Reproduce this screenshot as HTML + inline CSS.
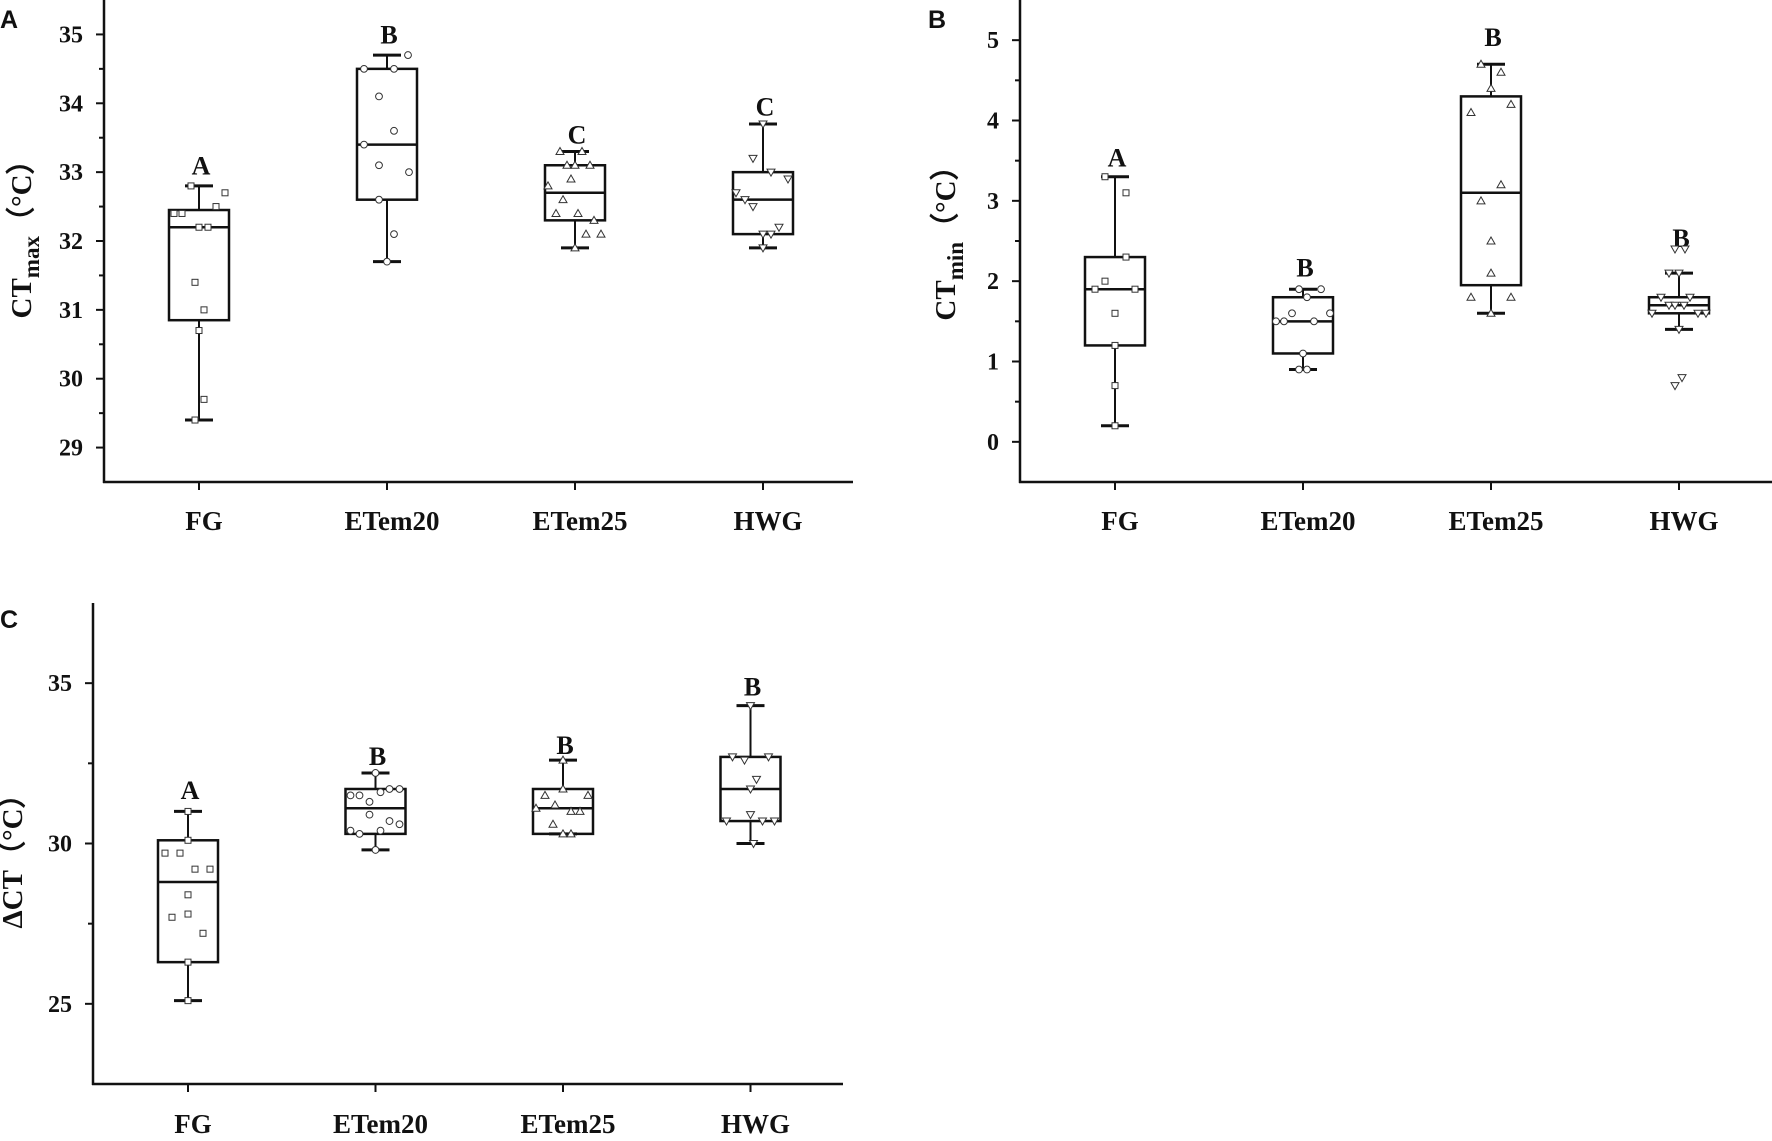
<!DOCTYPE html>
<html><head><meta charset="utf-8">
<style>
html,body{margin:0;padding:0;background:#fff;}
svg{display:block;}
text{font-family:"Liberation Serif",serif;font-weight:bold;fill:#111;}
.pl{font-family:"Liberation Sans",sans-serif;}
</style></head>
<body>
<svg id="fig" width="1772" height="1141" viewBox="0 0 1772 1141" xmlns="http://www.w3.org/2000/svg"></svg>
<script>
const categories = ["FG","ETem20","ETem25","HWG"];
const markerShapes = ["square","circle","up","down"];
// Panel A: CTmax
const aWhiskerLow = [29.4,31.7,31.9,31.9];
const aQ1 = [30.85,32.6,32.3,32.1];
const aMedian = [32.2,33.4,32.7,32.6];
const aQ3 = [32.45,34.5,33.1,33.0];
const aWhiskerHigh = [32.8,34.7,33.3,33.7];
const aLetters = ["A","B","C","C"];
const aLetterY = [33.1,35.0,33.55,33.95];
const aPoints = [
  [32.8,32.4,32.4,32.5,32.7,32.2,32.2,31.4,31.0,30.7,29.7,29.4],
  [34.7,34.5,34.5,34.1,33.6,33.4,33.1,33.0,32.6,32.1,31.7],
  [33.3,33.3,33.1,33.1,33.1,32.9,32.8,32.6,32.4,32.4,32.3,32.1,32.1,31.9],
  [33.7,33.2,33.0,32.9,32.7,32.6,32.5,32.2,32.1,32.1,31.9]
];
const aJitter = [
  [-8,-25,-17,17,26,0,9,-4,5,0,5,-4],
  [21,-23,7,-8,7,-23,-8,22,-8,7,0],
  [-15,7,-8,0,15,-4,-27,-12,-19,3,19,11,26,0],
  [0,-10,8,25,-27,-18,-10,16,0,8,0]
];
// Panel B: CTmin
const bWhiskerLow = [0.2,0.9,1.6,1.4];
const bQ1 = [1.2,1.1,1.95,1.6];
const bMedian = [1.9,1.5,3.1,1.7];
const bQ3 = [2.3,1.8,4.3,1.8];
const bWhiskerHigh = [3.3,1.9,4.7,2.1];
const bLetters = ["A","B","B","B"];
const bLetterY = [3.54,2.17,5.04,2.54];
const bPoints = [
  [3.3,3.1,2.3,2.0,1.9,1.9,1.6,1.2,0.7,0.2],
  [1.9,1.9,1.8,1.6,1.6,1.5,1.5,1.5,1.1,0.9,0.9],
  [4.7,4.6,4.4,4.2,4.1,3.2,3.0,2.5,2.1,1.8,1.8,1.6],
  [2.4,2.4,2.1,2.1,1.8,1.8,1.7,1.7,1.7,1.6,1.6,1.6,1.4,0.8,0.7]
];
const bJitter = [
  [-10,11,11,-10,-20,20,0,0,0,0],
  [-4,18,4,-11,27,-27,-19,11,0,-4,4],
  [-10,10,0,20,-20,10,-10,0,0,-20,20,0],
  [-4,6,-10,0,-18,11,-10,-4,5,-27,19,27,0,3,-4]
];
// Panel C: delta CT
const cWhiskerLow = [25.1,29.8,30.3,30.0];
const cQ1 = [26.3,30.3,30.3,30.7];
const cMedian = [28.8,31.1,31.1,31.7];
const cQ3 = [30.1,31.7,31.7,32.7];
const cWhiskerHigh = [31.0,32.2,32.6,34.3];
const cLetters = ["A","B","B","B"];
const cLetterY = [31.67,32.73,33.07,34.9];
const cPoints = [
  [31.0,30.1,29.7,29.7,29.2,29.2,28.4,27.8,27.7,27.2,26.3,25.1],
  [32.2,31.7,31.7,31.6,31.5,31.5,31.3,30.9,30.7,30.6,30.4,30.4,30.3,29.8],
  [32.6,31.7,31.5,31.5,31.2,31.1,31.0,31.0,30.6,30.3,30.3],
  [34.3,32.7,32.7,32.6,32.0,31.7,30.9,30.7,30.7,30.7,30.0]
];
const cJitter = [
  [0,0,-23,-8,7,22,0,0,-16,15,0,0],
  [0,14,24,5,-25,-16,-6,-6,14,24,-25,5,-16,0],
  [0,0,-18,25,-8,-27,8,17,-10,0,8],
  [0,-18,18,-6,6,0,0,-24,12,24,3]
];
const aTicks = [29,30,31,32,33,34,35];
const bTicks = [0,1,2,3,4,5];
const cTicks = [25,30,35];

const NS="http://www.w3.org/2000/svg";
const svg=document.getElementById('fig');
function mk(tag,attrs,parent){const e=document.createElementNS(NS,tag);for(const k in attrs)e.setAttribute(k,attrs[k]);(parent||svg).appendChild(e);return e;}

function panel(cfg){
  const g=mk('g',{});
  
  
  const y=v=>cfg.yBot-(v-cfg.dMin)/(cfg.dMax-cfg.dMin)*(cfg.yBot-cfg.yTop);
  const x=i=>cfg.x0+i*cfg.dx;
  const ya=mk('line',{x1:cfg.ax,y1:cfg.yTop,x2:cfg.ax,y2:cfg.yBot+1,stroke:'#111','stroke-width':2.5},g);
  
  
  const xa=mk('line',{x1:cfg.ax-1,y1:cfg.yBot,x2:cfg.xEnd,y2:cfg.yBot,stroke:'#111','stroke-width':2.5},g);
  
  
  cfg.ticks.forEach(t=>{
    mk('line',{x1:cfg.ax-8,y1:y(t),x2:cfg.ax,y2:y(t),stroke:'#111','stroke-width':2},g);
    const lb=mk('text',{x:cfg.ax-21,y:y(t)+8,'text-anchor':'end','font-size':24},g);
    lb.textContent=t;
    
    
  });
  for(let m=cfg.dMin+cfg.minor;m<cfg.dMax;m+=cfg.minor){
    if(cfg.ticks.some(t=>Math.abs(t-m)<1e-6))continue;
    mk('line',{x1:cfg.ax-5,y1:y(m),x2:cfg.ax,y2:y(m),stroke:'#111','stroke-width':2},g);
  }
  categories.forEach((c,i)=>{
    mk('line',{x1:x(i),y1:cfg.yBot,x2:x(i),y2:cfg.yBot+8,stroke:'#111','stroke-width':2},g);
    const lb=mk('text',{x:x(i)+5,y:cfg.catY,'text-anchor':'middle','font-size':27},g);
    lb.textContent=c;
    
    
  });
  const yt=mk('text',{transform:`translate(${cfg.titleX},${cfg.titleY}) rotate(-90)`,'text-anchor':'middle','font-size':29},g);
  yt.innerHTML=cfg.title;
  
  
  const pl=mk('text',{x:cfg.plX,y:cfg.plY,'font-size':25,class:'pl'},g);
  pl.textContent=cfg.label;
  
  
  categories.forEach((c,i)=>{
    const cx=x(i),hw=30,cw=14;
    const bg=mk('g',{},g);
    
    
    mk('line',{x1:cx,y1:y(cfg.wh[i]),x2:cx,y2:y(cfg.q3[i]),stroke:'#111','stroke-width':2},bg);
    mk('line',{x1:cx,y1:y(cfg.q1[i]),x2:cx,y2:y(cfg.wl[i]),stroke:'#111','stroke-width':2},bg);
    mk('line',{x1:cx-cw,y1:y(cfg.wh[i]),x2:cx+cw,y2:y(cfg.wh[i]),stroke:'#111','stroke-width':3},bg);
    mk('line',{x1:cx-cw,y1:y(cfg.wl[i]),x2:cx+cw,y2:y(cfg.wl[i]),stroke:'#111','stroke-width':3},bg);
    mk('rect',{x:cx-hw,y:y(cfg.q3[i]),width:2*hw,height:y(cfg.q1[i])-y(cfg.q3[i]),fill:'none',stroke:'#111','stroke-width':2.5},bg);
    mk('line',{x1:cx-hw,y1:y(cfg.med[i]),x2:cx+hw,y2:y(cfg.med[i]),stroke:'#111','stroke-width':2.5},bg);
    const lt=mk('text',{x:cx+2,y:y(cfg.letY[i])+9,'text-anchor':'middle','font-size':26},g);
    lt.textContent=cfg.letters[i];
    
    
    cfg.pts[i].forEach((v,k)=>{
      const px=cx+cfg.jit[i][k],py=y(v),s=markerShapes[i];
      let m;
      if(s==='square')m=mk('rect',{x:px-3,y:py-3,width:6,height:6,fill:'#fff',stroke:'#333','stroke-width':1},g);
      else if(s==='circle')m=mk('circle',{cx:px,cy:py,r:3.4,fill:'#fff',stroke:'#333','stroke-width':1},g);
      else if(s==='up')m=mk('polygon',{points:`${px},${py-4} ${px-4},${py+3} ${px+4},${py+3}`,fill:'#fff',stroke:'#333','stroke-width':1},g);
      else m=mk('polygon',{points:`${px},${py+4} ${px-4},${py-3} ${px+4},${py-3}`,fill:'#fff',stroke:'#333','stroke-width':1},g);
      
      
    });
  });
}
panel({name:'panel-a-ctmax',label:'A',plX:0,plY:28,ax:104,yTop:0,yBot:482,xEnd:853,dMin:28.5,dMax:35.5,ticks:aTicks,minor:0.5,
  x0:199,dx:188,catY:530,titleX:31,titleY:232,title:'CT<tspan dy="8" font-size="23">max</tspan><tspan dy="-8">（°C）</tspan>',
  wl:aWhiskerLow,q1:aQ1,med:aMedian,q3:aQ3,wh:aWhiskerHigh,letters:aLetters,letY:aLetterY,pts:aPoints,jit:aJitter});
panel({name:'panel-b-ctmin',label:'B',plX:928,plY:28,ax:1020,yTop:0,yBot:482,xEnd:1772,dMin:-0.5,dMax:5.5,ticks:bTicks,minor:0.5,
  x0:1115,dx:188,catY:530,titleX:955,titleY:236,title:'CT<tspan dy="8" font-size="23">min</tspan><tspan dy="-8">（°C）</tspan>',
  wl:bWhiskerLow,q1:bQ1,med:bMedian,q3:bQ3,wh:bWhiskerHigh,letters:bLetters,letY:bLetterY,pts:bPoints,jit:bJitter});
panel({name:'panel-c-delta-ct',label:'C',plX:0,plY:628,ax:93,yTop:603,yBot:1084,xEnd:843,dMin:22.5,dMax:37.5,ticks:cTicks,minor:2.5,
  x0:188,dx:187.5,catY:1133,titleX:22,titleY:854,title:'ΔCT（°C）',
  wl:cWhiskerLow,q1:cQ1,med:cMedian,q3:cQ3,wh:cWhiskerHigh,letters:cLetters,letY:cLetterY,pts:cPoints,jit:cJitter});
</script>
</body></html>
